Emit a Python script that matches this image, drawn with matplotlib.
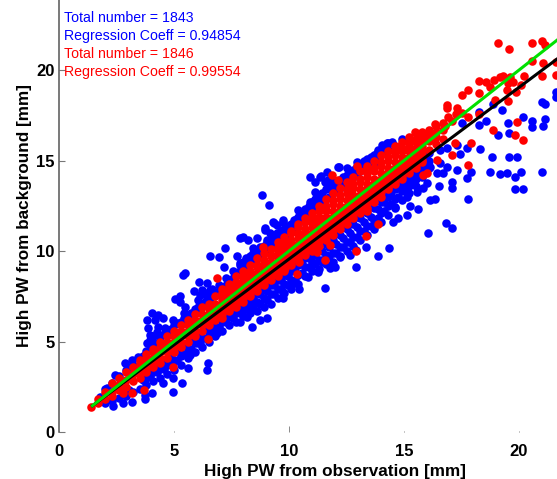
import matplotlib
matplotlib.use('Agg')
import matplotlib.pyplot as plt
import numpy as np

plt.rcParams['font.family'] = ['Liberation Sans', 'DejaVu Sans']

# values, (x, y) in mm
blue_upper = [
    (5.48,8.77),(5.37,8.67),(6.57,9.74),(6.97,9.69),(7.22,10.15),(7.19,9.13),(7.75,9.74),(6.09,8.27),
    (6.45,8.21),(5.88,7.81),(6.2,7.85),(6.57,7.85),(6.42,7.48),(6.13,7.57),(5.04,7.33),(5.26,7.51),
    (5.26,7.2),(5.48,6.92),(5.52,6.46),(4.97,6.19),(4.54,6.28),(4.32,6.46),(4.03,6.56),(3.81,6.19),
    (3.88,5.73),(4.17,6.19),(4.61,5.73),(4.32,5.82),(3.81,4.9),(3.96,5.36),(3.45,4.16),(3.16,3.98),
    (2.87,3.79),(2.43,3.15),(2.07,2.41),(1.78,1.95),(7.87,10.7),(8.0,10.79),(8.23,10.6),(8.59,10.7),
    (8.96,11.16),(9.33,11.53),(9.75,11.62),(9.97,11.34),(9.03,10.6),(9.46,10.98),(8.45,10.15),(7.87,9.32),
    (7.8,8.86),(6.28,7.75),(6.78,7.75),(7.14,7.85),(7.5,8.2),(6.57,7.38),(5.55,6.37),(6.0,6.74),
    (8.84,13.09),(9.14,12.54),(10.91,14.07),(11.13,13.83),(11.38,14.14),(11.13,13.28),(11.71,13.92),
    (12.15,14.66),(12.51,14.57),(12.94,14.94),(13.81,15.4),(14.03,15.86),(14.32,15.95),(13.74,14.84),
    (10.4,12.27),(10.91,12.73),(11.06,12.27),(10.63,11.9),(10.2,11.71),(9.75,11.71),(9.32,11.62),
    (8.95,11.25),(9.17,10.98),(9.46,11.44),(14.25,15.95),(14.47,16.04),(14.93,16.17),(13.45,14.84),
    (12.19,14.66),(11.67,14.38),(11.35,14.11),(11.56,13.83),(11.85,13.83),(11.2,12.82),
]
blue_lower = [
    (4.97,2.23),(5.33,2.69),(6.49,3.79),(6.42,3.43),(5.62,3.52),(5.7,4.25),(6.13,4.9),(6.88,5.45),
    (3.74,1.8),(3.74,2.04),(4.03,2.14),(3.16,1.68),(2.36,1.45),(2.8,1.62),(4.54,2.69),(4.97,2.97),
    (7.87,6.1),(8.38,5.82),(9.03,6.28),(8.16,6.37),(8.74,6.19),(11.57,7.94),(10.84,8.58),
    (10.45,7.88),(10.26,8.21),(9.72,7.38),(9.75,7.75),(11.28,8.86),(11.78,9.04),(12.0,9.1),(12.9,9.1),
    (12.22,9.69),(12.65,9.78),(13.88,9.74),(14.36,10.15),(13.33,10.24),(12.91,10.06),(11.42,9.41),
]
blue_outliers = [
    (16.03,10.98),(17.07,11.25),(16.81,11.57),(15.62,12.3),(15.26,12.49),(15.12,11.99),(14.75,11.8),
    (14.5,11.62),(17.8,12.87),(16.35,12.87),(16.13,12.82),(17.07,13.83),(17.07,13.46),(16.53,13.59),
    (17.72,14.01),(17.91,14.35),(17.32,14.47),(18.74,14.35),(19.17,14.24),(19.46,14.29),(19.83,14.11),
    (20.07,14.38),(20.98,14.35),(19.83,13.43),(20.19,13.43),(18.81,15.21),(19.56,15.21),(19.9,15.17),
    (18.3,15.62),(17.75,15.71),(17.43,15.34),(19.1,16.41),(19.58,16.54),(20.19,17.38),(20.55,17.2),
    (20.55,16.83),(21.13,17.27),(21.05,16.92),(19.52,17.09),(18.55,17.18),(18.26,16.96),(18.27,17.7),
    (17.51,17.09),(19.25,17.79),(20.98,18.25),(21.13,18.1),(21.6,18.49),(21.6,18.8),(18.88,18.12),
    (16.56,14.84),(16.85,14.66),(16.42,14.29),(16.71,14.29),(16.13,14.66),(17.29,15.86),(16.85,15.67),
    (16.56,15.58),(15.84,13.46),(15.55,13.28),(15.99,13.74),(15.4,13.92),(15.12,13.0),(14.6,12.45),
]

# the solid part of the blue cloud, y values at each x
blue_core_x = [2.0,2.3,2.6,2.9,3.2,3.5,3.8,4.1,4.4,4.7,5.0,5.3,5.6,5.9,6.2,6.5,6.8,7.1,7.4,7.7,8.0,8.3,
               8.6,8.9,9.2,9.5,9.8,10.1,10.4,10.7,11.0,11.3,11.6,11.9,12.2,12.5,12.8,13.1,13.4,13.7,
               14.0,14.3,14.6,14.9,15.2,15.5,15.8,16.1]
blue_core_y = [
    [1.6,2.4],[1.7,2.7],[1.9,3.1],[2.0,3.4],[2.2,3.7],[2.4,4.0],[2.6,3.0,4.5],[2.8,3.3,4.9,5.3],[3.0,3.5,5.2],
    [3.2,3.7,5.5],[3.4,3.9,5.9],[3.7,4.2,6.1],[4.1,4.6,6.4],[4.4,4.9,6.8],[4.7,5.2,7.1],[5.0,5.5,7.4],
    [5.3,5.8,7.7],[5.6,6.1,8.0],[5.9,6.4,8.3],[6.1,6.6,8.7],[6.4,6.9,9.0,9.4],[6.6,7.1,9.3,9.7],[6.7,7.2,7.7,9.6,10.0],
    [6.9,7.4,7.9,9.9,10.3],[7.1,7.6,8.1,10.2,10.6],[7.4,7.9,8.4,10.5,10.9],[7.7,8.2,8.7,10.8,11.2],[7.9,8.4,8.9,11.1,11.5],
    [8.2,8.7,9.2,11.5,11.9],[8.6,9.1,9.6,11.8,12.3],[8.9,9.4,9.9,12.2,12.7],[9.0,9.5,10.1,12.6,13.1],[9.3,9.8,10.4,12.9,13.4],
    [9.4,9.9,10.6,13.2,13.6],[9.7,10.2,10.9,13.5,13.9],[10.0,10.5,11.2,13.8,14.2],[10.3,10.8,11.5,14.1,14.5],
    [10.6,11.1,11.8,14.4,14.8],[10.9,11.4,12.1,14.7,15.1],[11.2,11.7,12.4,15.0,15.3],[11.6,12.1,12.7,15.4],[12.0,12.5,13.0,15.6],
    [12.4,12.9,13.4,15.8],[12.8,13.3,13.7],[13.2,13.6,14.0],[13.6,14.0,14.4],[14.1,14.5,14.9],[14.6,15.0,15.4],
]
# second pass, between the columns above
blue_fill_x = [3.05,3.65,3.95,4.25,4.55,4.85,5.15,5.45,5.75,6.05,6.35,6.65,6.95,7.25,7.55,7.85,8.15,8.45,8.75,
               9.05,9.35,9.65,9.95,10.25,10.55,10.85,11.15,11.45,11.75,12.05,12.35,12.65,12.95,13.25,13.55,
               13.85,14.15,14.45,14.75,15.05,15.35,15.65,15.95]
blue_fill_y = [
    [2.3,3.6],[2.9,4.2],[3.1,3.6,4.8,5.1],[3.3,3.8,4.9,5.5],[3.5,4.0,5.4],[3.7,4.2,5.7],[4.0,4.5,6.0],[4.3,4.8,6.3,6.6],
    [4.6,5.1,6.6],[4.9,5.4,6.9,7.3],[5.2,5.7,7.2,7.6],[5.5,6.0,7.5,7.9],[5.8,6.3,7.8,8.1],[6.1,6.6,8.1,8.5],[6.3,6.8,8.5,8.9],
    [6.6,7.1,8.8,9.2],[6.8,7.3,9.1,9.6],[6.9,7.4,7.9,9.4,9.9],[7.1,7.6,8.1,9.8,10.2],[7.3,7.8,8.3,10.0,10.5],[7.6,8.1,8.6,10.4,10.8],
    [7.9,8.4,8.9,10.7,11.1],[8.1,8.6,9.1,11.0,11.4],[8.4,8.9,9.4,11.3,11.7],[8.8,9.3,9.8,11.7,12.1],[9.1,9.6,10.1,12.0,12.5],
    [9.3,9.8,10.3,12.4,12.9],[9.5,10.0,10.5,12.8,13.2],[9.7,10.2,10.8,13.0,13.5],[9.9,10.4,11.0,13.4,13.8],[10.2,10.7,11.3,13.7,14.1],
    [10.5,11.0,11.6,14.0,14.4],[10.8,11.3,11.9,14.3,14.7],[11.1,11.6,12.2,14.6,15.0],[11.4,11.9,12.5,14.9,15.2],[11.8,12.3,12.8,15.2,15.6],
    [12.2,12.7,13.2,15.5],[12.6,13.1,13.6],[13.0,13.5,14.0],[13.4,13.8,14.2],[13.8,14.2,14.6],[14.3,14.7,15.1],[14.8,15.2],
]

red_band_x = [1.4,1.7,2.0,2.3,2.6,2.9,3.2,3.5,3.8,4.1,4.4,4.7,5.0,5.3,5.6,5.9,6.2,6.5,6.8,
              7.1,7.4,7.7,8.0,8.3,8.6,8.9,9.2,9.5,9.8,10.1,10.4,10.7,11.0,11.3,11.6,11.9,
              12.2,12.5,12.8,13.1,13.4,13.7,14.0,14.3,14.6,14.9,15.2,15.5,15.8,16.1,16.4,16.7]
red_band_y = [
    [1.4],[1.8,1.6],[2.2,1.8],[2.7,2.2,2.0],[3.0,2.6,2.3],[3.3,2.9,2.5],[3.6,3.2,2.8],[4.0,3.5,3.0],
    [4.3,3.8,3.3],[4.6,4.1,3.6],[5.0,4.4,3.8],[5.3,4.7,4.1],[5.6,5.0,4.4],[5.9,5.3,4.7],[6.2,5.6,5.0],
    [6.5,5.9,5.3],[6.9,6.2,5.6],[7.1,6.5,5.9],[7.5,6.8,6.2],
    [7.9,7.5,7.1,6.7,6.3],[8.2,7.8,7.4,7.0,6.7],[8.6,8.1,7.7,7.3,6.9],[8.9,8.4,8.0,7.6,7.2],
    [9.2,8.7,8.3,7.9,7.5],[9.6,9.1,8.6,8.2,7.8],[9.9,9.4,8.9,8.5,8.1],[10.1,9.7,9.2,8.8,8.4],
    [10.5,10.0,9.5,9.0,8.6],[10.8,10.3,9.8,9.3,8.9],[11.1,10.6,10.1,9.6,9.2],[11.5,11.0,10.4,9.9,9.5],
    [11.8,11.2,10.7,10.2,9.8],[12.1,11.6,11.0,10.5,10.0],[12.5,11.9,11.3,10.8,10.3],[12.9,12.2,11.6,11.1,10.6],
    [13.2,12.6,11.9,11.4,10.9],[13.5,12.9,12.2,11.7,11.2],[13.8,13.2,12.5,12.0,11.5],[14.1,13.5,12.8,12.3,11.8],
    [14.4,13.8,13.1,12.6,12.1],[14.7,14.1,13.4,12.9,12.4],[15.0,14.4,13.7,13.2,12.7],[15.3,14.7,14.0,13.5,13.0],
    [15.5,15.0,14.3,13.8,13.4],[15.8,15.3,14.6,14.1,13.7],[16.0,15.5,14.9,14.4,14.0],[16.3,15.8,15.2,14.7,14.3],
    [16.5,16.0,15.5,15.0,14.6],[16.6,16.2,15.8,15.3,14.9],[16.7,16.4,16.1,15.6],[16.9,16.6,16.3,15.9],[17.1,16.7,16.2],
]
# more red in the same band, closing the gaps between the rows above
red_fill_x = [3.5,3.8,4.1,4.4,4.7,5.0,5.3,5.6,5.9,6.2,6.5,6.8,
              7.1,7.4,7.7,8.0,8.3,8.6,8.9,9.2,9.5,9.8,
              10.1,10.4,10.7,11.0,11.3,11.6,11.9,12.2,12.5,12.8,13.1,13.4,13.7,14.0,14.3,14.6,14.9,15.2,15.5,15.8]
red_fill_y = [
    [3.8,3.2],[4.1,3.5],[4.4,3.8],[4.7,4.1],[5.0,4.4],[5.3,4.7],[5.6,5.0],[5.9,5.3],[6.2,5.6],[6.5,5.9],[6.8,6.2],[7.1,6.5],
    [7.7,7.3,6.9,6.5],[8.0,7.6,7.2,6.8],[8.3,7.9,7.5,7.1],[8.6,8.2,7.8,7.4],[8.9,8.5,8.1,7.7],[9.2,8.8,8.4,8.0],
    [9.5,9.1,8.7,8.3],[9.8,9.4,9.0,8.6],[10.2,9.7,9.3,8.8],[10.5,10.0,9.6,9.1],
    [11.0,10.4,9.85,9.35],[11.3,10.7,10.15,9.65],[11.6,11.0,10.45,9.95],[11.9,11.3,10.75,10.25],[12.2,11.6,11.05,10.55],
    [12.5,11.9,11.35,10.85],[12.8,12.2,11.65,11.15],[13.1,12.5,11.95,11.45],[13.4,12.8,12.25,11.75],[13.7,13.1,12.55,12.05],
    [14.0,13.4,12.85,12.35],[14.3,13.7,13.15,12.65],[14.6,14.0,13.45,12.95],[14.9,14.3,13.75,13.25],[15.2,14.6,14.05,13.55],
    [15.5,14.9,14.35,13.85],[15.7,15.2,14.65,14.15],[16.0,15.5,14.95,14.45],[16.2,15.7,15.25,14.75],[16.4,16.0,15.55,15.05],
]
red_outliers = [
    (19.1,21.47),(19.58,21.16),(20.55,21.47),(21.0,21.62),(21.13,21.38),(20.55,20.5),(21.06,20.37),
    (20.98,19.67),(21.6,19.72),(21.6,20.46),(20.2,19.67),(18.26,19.41),(18.55,19.36),(18.93,19.45),
    (19.17,19.6),(19.32,19.67),(19.6,19.6),(19.75,19.36),(18.74,19.04),(19.53,19.26),(19.46,18.9),
    (20.07,19.17),(19.87,18.8),(18.27,18.75),(17.77,18.9),(17.51,18.62),(16.85,18.07),(16.85,17.92),
    (17.29,17.88),(17.26,17.57),(17.5,17.6),(16.93,17.38),(17.07,17.2),(17.77,17.38),(18.27,17.57),
    (18.95,18.34),(19.53,18.29),(16.35,17.0),(16.78,16.9),(15.48,16.59),(18.88,16.68),(19.9,17.15),
    (19.83,16.41),(20.19,16.13),(17.9,15.98),(17.8,14.75),(17.07,15.3),(17.2,15.95),(15.84,16.13),
    (16.27,16.3),(16.42,15.03),(15.84,14.2),(15.99,14.29),(13.88,11.49),(13.35,10.83),(13.41,12.21),
    (12.14,13.92),(11.85,14.2),(12.97,14.71),(13.41,14.57),(14.68,15.76),(3.16,2.14),(2.8,2.14),
    (3.71,2.32),(4.97,3.61),(6.49,5.14),(6.86,8.49),(8.88,10.24),(10.33,8.73),(11.57,9.5),(12.91,10.02),
    (10.45,9.41),(9.83,9.04),(11.2,9.96),(11.78,10.34),
]

line_x = [1.4, 22]
black_y = [1.4, 20.94]
green_y = [1.4, 22]

x_ticks = [0, 5, 10, 15, 20]
y_ticks = [0, 5, 10, 15, 20]

blue_text = ['Total number = 1843', 'Regression Coeff = 0.94854']
red_text = ['Total number = 1846', 'Regression Coeff = 0.99554']


def flatten(xs, ys):
    return [(x, y) for x, row in zip(xs, ys) for y in row]


blue = np.array(blue_upper + blue_lower + blue_outliers + flatten(blue_core_x, blue_core_y)
                + flatten(blue_fill_x, blue_fill_y))
red = np.array(flatten(red_band_x, red_band_y) + flatten(red_fill_x, red_fill_y) + red_outliers)

fig = plt.figure(figsize=(5.57, 4.79), dpi=100)
ax = fig.add_axes([59/557, 47/479, 498/557, 432/479])

ax.scatter(blue[:, 0], blue[:, 1], s=38, c='#0000ff', linewidths=0, zorder=2)
ax.scatter(red[:, 0], red[:, 1], s=38, c='#ff0000', linewidths=0, zorder=3)
ax.plot(line_x, black_y, color='black', lw=2.2, zorder=4, solid_capstyle='butt')
ax.plot(line_x, green_y, color='#00e000', lw=2.2, zorder=5, solid_capstyle='butt')

ax.set_xlim(0, 21.65)
ax.set_ylim(0, 23.87)
ax.set_xticks(x_ticks)
ax.set_yticks(y_ticks)
ax.spines['top'].set_visible(False)
ax.spines['right'].set_visible(False)
ax.spines['bottom'].set_visible(False)
ax.spines['left'].set_color('#555555')
ax.spines['left'].set_linewidth(1.1)
ax.tick_params(axis='y', direction='in', length=4, width=0.8, color='#777777', pad=3)
ax.tick_params(axis='x', direction='in', length=1, width=0.6, color='#777777', pad=9)
ax.xaxis.get_major_ticks()[2].tick1line.set_markersize(4)
for label in ax.get_xticklabels() + ax.get_yticklabels():
    label.set_fontsize(12)
    label.set_fontweight('bold')

ax.set_xlabel('High PW from observation [mm]', fontsize=12.3, fontweight='bold')
ax.xaxis.set_label_coords(276/498, -0.074)
ax.set_ylabel('High PW from background [mm]', fontsize=12.3, fontweight='bold')
ax.yaxis.set_label_coords(-27/498, 0.502)

ax.text(0.2, 22.9, blue_text[0], color='#0000ff', fontsize=10.2, va='center')
ax.text(0.2, 21.9, blue_text[1], color='#0000ff', fontsize=10.2, va='center')
ax.text(0.2, 20.9, red_text[0], color='#ff0000', fontsize=10.2, va='center')
ax.text(0.2, 19.9, red_text[1], color='#ff0000', fontsize=10.2, va='center')

fig.savefig('out.png', dpi=100)
